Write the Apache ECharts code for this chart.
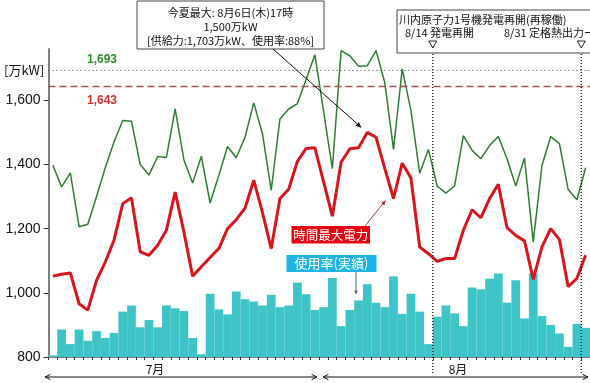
<!DOCTYPE html>
<html><head><meta charset="utf-8">
<script src="https://cdn.jsdelivr.net/npm/echarts@6/dist/echarts.min.js"></script>
<style>html,body{margin:0;padding:0;background:#fff}#c{width:590px;height:383px}</style>
</head><body><div id="c"></div>
<script>
const days = ['7/1','7/2','7/3','7/4','7/5','7/6','7/7','7/8','7/9','7/10','7/11','7/12','7/13','7/14','7/15','7/16','7/17','7/18','7/19','7/20','7/21','7/22','7/23','7/24','7/25','7/26','7/27','7/28','7/29','7/30','7/31',
'8/1','8/2','8/3','8/4','8/5','8/6','8/7','8/8','8/9','8/10','8/11','8/12','8/13','8/14','8/15','8/16','8/17','8/18','8/19','8/20','8/21','8/22','8/23','8/24','8/25','8/26','8/27','8/28','8/29','8/30','8/31'];
// 供給力 (万kW)
const supply = [1398,1330,1374,1206,1214,1300,1390,1470,1537,1535,1400,1367,1425,1422,1573,1415,1342,1426,1280,1366,1456,1421,1485,1592,1496,1320,1542,1573,1590,1666,1742,
1565,1387,1755,1739,1706,1708,1755,1656,1447,1698,1568,1373,1447,1333,1311,1333,1490,1444,1418,1459,1487,1418,1333,1420,1159,1397,1487,1465,1322,1290,1390];
// 時間最大電力 (万kW)
const demand = [1052,1058,1062,966,946,1039,1096,1164,1278,1296,1128,1117,1148,1195,1314,1190,1052,1081,1110,1138,1200,1228,1264,1351,1250,1138,1294,1323,1410,1450,1452,
1346,1239,1407,1449,1452,1500,1485,1388,1294,1404,1358,1143,1122,1098,1107,1107,1195,1259,1234,1294,1338,1203,1179,1162,1042,1143,1200,1166,1019,1045,1117];
// 使用率 (%)
const usageRate = [75.3,79.9,77.3,79.9,77.9,79.6,78.4,79.3,83.1,84.2,80.3,81.6,80.3,84.2,83.7,83.2,78.4,75.5,86.3,83.5,82.6,86.7,85.3,84.9,84.2,86.1,83.9,84.2,88.3,86.2,83.4,
83.9,89.1,80.5,83.4,85.1,88.0,84.7,83.9,89.4,82.7,86.3,83.1,77.3,82.2,84.2,82.8,80.5,87.4,87.1,89.0,89.9,84.7,88.7,81.9,89.9,82.3,80.7,79.2,76.8,80.9,80.2];
const yTicks = [800,1000,1200,1400,1600];
const supplyRef = 1693;
const demandRef = 1643;
const peakIndex = 36;
const restartIndex = 44; // 8/14
const ratedIndex = 61;   // 8/31

const JP = '"Noto Sans CJK JP", sans-serif';
const NUM = '"Liberation Sans", Arial, sans-serif';
const fmt = v => String(v).replace(/\B(?=(\d{3})+(?!\d))/g, ',');

const chart = echarts.init(document.getElementById('c'), null, {renderer:'canvas'});
chart.setOption({
  animation:false,
  backgroundColor:'#fff',
  grid:{left:48.5, top:49, width:543.7, height:308, containLabel:false},
  xAxis:[
    {type:'category', data:days, boundaryGap:true,
     axisLine:{lineStyle:{color:'#7f7f7f', width:2}},
     axisTick:{show:true, interval:0, length:3, lineStyle:{color:'#333', width:1}},
     axisLabel:{show:false}, splitLine:{show:false}},
    {type:'value', min:0, max:62, show:false}
  ],
  yAxis:[
    {type:'value', min:800, max:1760, interval:200,
     axisLine:{show:true, lineStyle:{color:'#7f7f7f', width:2}},
     axisTick:{show:true, inside:false, length:5, customValues:yTicks, lineStyle:{color:'#333'}},
     axisLabel:{customValues:yTicks, formatter:v=>fmt(v), color:'#111', fontSize:14, fontFamily:NUM, margin:8},
     splitLine:{show:false}},
    {type:'value', min:75, max:130, show:false, splitLine:{show:false}}
  ],
  series:[
    {type:'bar', name:'使用率', xAxisIndex:0, yAxisIndex:1, data:usageRate, barCategoryGap:'0%',
     itemStyle:{color:'#3cc4c6'}, z:1, clip:true},
    {type:'line', name:'供給力', data:supply, symbol:'none', z:3,
     lineStyle:{color:'#2e7d32', width:1.5},
     markLine:{silent:true, symbol:'none', label:{show:false},
       data:[{yAxis:supplyRef, lineStyle:{type:[1,3], color:'#444', width:1}},
             {yAxis:demandRef, lineStyle:{type:[7,4], color:'#a0524f', width:1.3}}]}},
    {type:'line', name:'時間最大電力', data:demand, symbol:'none', z:4,
     lineStyle:{color:'#d8141c', width:3}}
  ]
});

const xa = chart.convertToPixel({xAxisIndex:1}, restartIndex);
const xb = chart.convertToPixel({xAxisIndex:1}, ratedIndex);
const pk = chart.convertToPixel({seriesIndex:2}, [peakIndex, demand[peakIndex]]);
const yS = chart.convertToPixel({yAxisIndex:0}, supplyRef);
const yD = chart.convertToPixel({yAxisIndex:0}, demandRef);

function txt(t, x, y, o){ return Object.assign({type:'text', z:20, style:Object.assign({text:t, x:x, y:y, font:'11px '+JP, fill:'#111', align:'left', verticalAlign:'middle'}, o||{})}); }
function ln(x1,y1,x2,y2,style){ return {type:'line', z:15, shape:{x1,y1,x2,y2}, style:Object.assign({stroke:'#111', lineWidth:1}, style||{})}; }
function arrowHead(x1,y1,x2,y2,size,color,open){
  const a=Math.atan2(y2-y1,x2-x1), s=size, w=0.45;
  const p1=[x2-s*Math.cos(a-w), y2-s*Math.sin(a-w)], p2=[x2-s*Math.cos(a+w), y2-s*Math.sin(a+w)];
  if(open) return {type:'polyline', z:16, shape:{points:[p1,[x2,y2],p2]}, style:{stroke:color, lineWidth:1, fill:null}};
  return {type:'polygon', z:16, shape:{points:[p1,[x2,y2],p2]}, style:{fill:color}};
}

const g = [];
// unit
g.push(txt('[万kW]', 4, yS, {font:'13px '+JP}));
g.push(txt(fmt(supplyRef), 87, yS-11, {font:'bold 12px '+NUM, fill:'#2e8b2e'}));
g.push(txt(fmt(demandRef), 87, yD+14, {font:'bold 12px '+NUM, fill:'#d03030'}));
// left box
g.push({type:'rect', z:14, shape:{x:137, y:1, width:187, height:48}, style:{fill:'#fff', stroke:'#444', lineWidth:1}});
g.push(txt('今夏最大: 8月6日(木)17時', 230.5, 13, {align:'center'}));
g.push(txt('1,500万kW', 230.5, 27, {align:'center'}));
g.push(txt('[供給力:1,703万kW、使用率:88%]', 230.5, 41, {align:'center'}));
g.push(ln(273, 49, pk[0]-6, pk[1]-5));
g.push(arrowHead(273, 49, pk[0]-6, pk[1]-5, 6, '#111', false));
// right box
g.push({type:'rect', z:14, shape:{x:397, y:10, width:200, height:43}, style:{fill:'#fff', stroke:'#444', lineWidth:1}});
g.push(txt('川内原子力1号機発電再開(再稼働)', 399, 20));
g.push(txt('8/14 発電再開', 405, 33));
g.push(txt('8/31 定格熱出力ー', 504, 33));
[xa, xb].forEach(x=>{
  g.push({type:'polygon', z:16, shape:{points:[[x-4,41],[x+4,41],[x,48]]}, style:{fill:'#fff', stroke:'#222', lineWidth:1}});
  g.push(ln(x, 54, x, 374, {lineDash:[1,2], stroke:'#111', lineWidth:1.3}));
});
// legend labels
g.push({type:'rect', z:14, shape:{x:291.5, y:226, width:78.5, height:17.5}, style:{fill:'#e60012'}});
g.push(txt('時間最大電力', 330.7, 235, {align:'center', font:'12.5px '+JP, fill:'#fff'}));
const dTarget = chart.convertToPixel({seriesIndex:2}, [39, demand[39]]);
g.push(ln(365, 226, dTarget[0]-8, dTarget[1]+2, {stroke:'#a03030'}));
g.push(arrowHead(365, 226, dTarget[0]-8, dTarget[1]+2, 5, '#a03030', false));
g.push({type:'rect', z:14, shape:{x:286.5, y:255, width:90, height:17}, style:{fill:'#1fb4e6'}});
g.push(txt('使用率(実績)', 331.5, 263.5, {align:'center', font:'13px '+JP, fill:'#fff'}));
g.push(ln(356, 272, 356, 294, {stroke:'#3a6a7a'}));
g.push(arrowHead(356, 272, 356, 294, 4, '#3a6a7a', false));
// months
g.push(txt('7月', 155, 369, {align:'center', font:'12px '+JP}));
g.push(txt('8月', 458, 369, {align:'center', font:'12px '+JP}));
g.push(ln(45, 377, 317, 377));
g.push(arrowHead(317, 377, 45, 377, 6, '#111', true));
g.push(arrowHead(45, 377, 317, 377, 6, '#111', true));
g.push(ln(323, 377, 588, 377));
g.push(arrowHead(588, 377, 323, 377, 6, '#111', true));
g.push(arrowHead(323, 377, 588, 377, 6, '#111', true));

chart.setOption({graphic:g});
</script></body></html>
